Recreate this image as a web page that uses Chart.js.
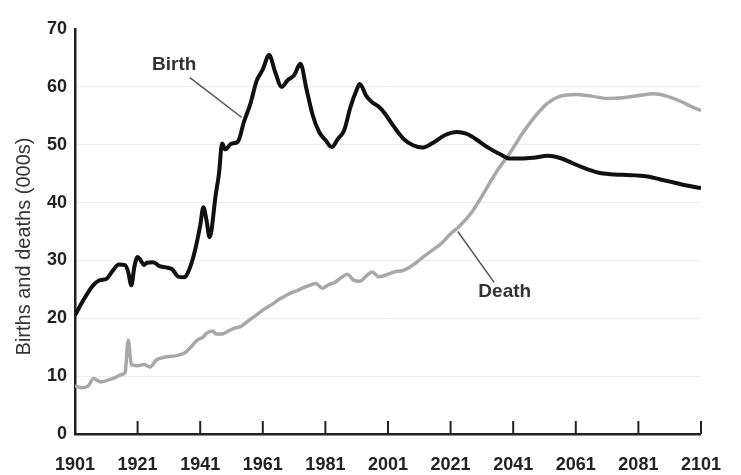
<!DOCTYPE html>
<html><head><meta charset="utf-8">
<script src="https://cdn.jsdelivr.net/npm/chart.js@4"></script>
<style>html,body{margin:0;padding:0;background:#fff}#wrap{width:741px;height:475px;position:relative}</style>
</head><body><div id="wrap"><canvas id="c"></canvas></div>
<script>
const birthYears  = [1901,1903,1905,1907,1909,1911,1913,1915,1917,1918,1919,1920,1921,1922,1923,1924,1926,1928,1930,1932,1934,1936,1937,1939,1941,1942,1943,1944,1946,1947,1948,1949,1951,1953,1955,1957,1959,1961,1963,1965,1967,1969,1971,1973,1975,1977,1979,1981,1983,1985,1987,1989,1991,1992,1994,1996,1998,2000,2002,2004,2006,2009,2012,2015,2019,2023,2026,2029,2033,2037,2040,2044,2048,2052,2056,2060,2064,2068,2072,2076,2080,2084,2088,2092,2096,2101];
const birthValues = [20.5,22.5,24.3,25.8,26.6,26.8,28.2,29.3,29.2,28.0,25.7,29.0,30.6,30.0,29.2,29.6,29.7,29.0,28.8,28.5,27.2,27.1,27.8,31.0,36.0,39.2,37.0,34.0,41.5,45.0,50.2,49.2,50.2,50.5,54.0,57.0,61.0,63.0,65.5,62.5,60.0,61.2,62.0,64.0,59.5,55.0,52.2,50.8,49.6,51.0,52.5,56.5,59.5,60.5,58.5,57.3,56.6,55.4,53.8,52.3,51.0,49.9,49.5,50.2,51.6,52.2,51.9,51.0,49.5,48.3,47.6,47.6,47.8,48.1,47.7,46.8,45.9,45.2,44.9,44.8,44.7,44.5,44.0,43.5,43.0,42.5];
const deathYears  = [1901,1903,1905,1907,1909,1912,1914,1916,1917,1918,1919,1921,1923,1925,1927,1929,1931,1933,1936,1938,1940,1942,1943,1945,1946,1948,1950,1952,1954,1956,1958,1960,1962,1964,1966,1968,1970,1972,1974,1976,1978,1980,1982,1984,1986,1988,1990,1992,1994,1996,1998,2000,2003,2006,2009,2012,2015,2018,2021,2024,2028,2032,2036,2040,2044,2048,2052,2056,2061,2066,2071,2076,2081,2086,2090,2094,2098,2101];
const deathValues = [8.3,8.0,8.2,9.6,9.0,9.4,9.8,10.3,10.6,16.2,12.0,11.8,12.0,11.6,12.8,13.2,13.4,13.5,14.0,15.0,16.2,16.8,17.4,17.8,17.3,17.3,17.8,18.3,18.6,19.4,20.2,21.0,21.8,22.4,23.2,23.8,24.4,24.8,25.3,25.7,26.0,25.2,25.8,26.2,27.0,27.6,26.6,26.4,27.3,28.0,27.2,27.4,28.0,28.3,29.2,30.5,31.7,32.9,34.6,36.0,38.5,42.0,45.6,48.6,52.0,54.9,57.2,58.4,58.7,58.4,58.0,58.1,58.5,58.8,58.4,57.6,56.6,55.9];
const xTicks = [1901,1921,1941,1961,1981,2001,2021,2041,2061,2081,2101];
const yTicks = [0,10,20,30,40,50,60,70];
const seriesNames = ['Birth','Death'];
const yTitle = 'Births and deaths (000s)';
// callout labels: [text, labelX, labelY, lineFromX, lineFromY, lineToX, lineToY] in data units
const callouts = [
  ['Birth', 1932.7, 63.8, 1937.7, 61.6, 1954.3, 54.7],
  ['Death', 2038.3, 24.5, 2034.9, 26.2, 2023.3, 35.0]
];

const FONT = "'Liberation Sans', Arial, sans-serif";
const toPts = (xs, ys) => xs.map((v, i) => ({x: v, y: ys[i]}));

const decor = {
  id: 'decor',
  afterDraw(chart) {
    const {ctx, chartArea, scales: {x, y}} = chart;
    ctx.save();
    ctx.strokeStyle = '#222';
    ctx.lineWidth = 2;
    xTicks.forEach(v => {
      if (v === xTicks[0]) return;
      const px = x.getPixelForValue(v);
      ctx.beginPath();
      ctx.moveTo(px, chartArea.bottom);
      ctx.lineTo(px, chartArea.bottom - 13);
      ctx.stroke();
    });
    callouts.forEach(c => {
      ctx.strokeStyle = '#555';
      ctx.lineWidth = 1.5;
      ctx.beginPath();
      ctx.moveTo(x.getPixelForValue(c[3]), y.getPixelForValue(c[4]));
      ctx.lineTo(x.getPixelForValue(c[5]), y.getPixelForValue(c[6]));
      ctx.stroke();
      ctx.fillStyle = '#333';
      ctx.font = 'bold 19px ' + FONT;
      ctx.textAlign = 'center';
      ctx.textBaseline = 'middle';
      ctx.fillText(c[0], x.getPixelForValue(c[1]), y.getPixelForValue(c[2]));
    });
    // y-axis title
    ctx.translate(24, (chartArea.top + chartArea.bottom) / 2 + 15);
    ctx.rotate(-Math.PI / 2);
    ctx.fillStyle = '#333';
    ctx.font = '20px ' + FONT;
    ctx.textAlign = 'center';
    ctx.textBaseline = 'middle';
    ctx.fillText(yTitle, 0, 0);
    ctx.restore();
  }
};

new Chart(document.getElementById('c'), {
  type: 'line',
  data: {
    datasets: [
      {label: seriesNames[0], data: toPts(birthYears, birthValues), borderColor: '#111', borderWidth: 4, pointRadius: 0, cubicInterpolationMode: 'monotone', fill: false},
      {label: seriesNames[1], data: toPts(deathYears, deathValues), borderColor: '#a8a8a8', borderWidth: 3.5, pointRadius: 0, cubicInterpolationMode: 'monotone', fill: false}
    ]
  },
  options: {
    responsive: true,
    maintainAspectRatio: false,
    animation: false,
    layout: {padding: {top: 29, right: 28, bottom: 0, left: 0}},
    plugins: {legend: {display: false}, tooltip: {enabled: false}, title: {display: false}},
    scales: {
      x: {
        type: 'linear', min: xTicks[0], max: xTicks[xTicks.length - 1],
        afterBuildTicks: s => { s.ticks = xTicks.map(v => ({value: v})); },
        afterFit: s => { s.height = 41; },
        grid: {drawOnChartArea: false, drawTicks: false},
        border: {display: true, color: '#222', width: 2.5},
        ticks: {padding: 20, color: '#222', font: {family: FONT, size: 18, weight: 'bold'}, callback: v => String(v), maxRotation: 0, autoSkip: false}
      },
      y: {
        min: yTicks[0], max: yTicks[yTicks.length - 1],
        afterBuildTicks: s => { s.ticks = yTicks.map(v => ({value: v})); },
        afterFit: s => { s.width = 75; },
        grid: {drawTicks: false, color: c => (c.tick && (c.tick.value === 0 || c.tick.value === 70)) ? 'rgba(0,0,0,0)' : 'rgba(0,0,0,0.07)', lineWidth: 1},
        border: {display: true, color: '#222', width: 2.5},
        ticks: {padding: 8, color: '#222', font: {family: FONT, size: 18, weight: 'bold'}, callback: v => String(v)},
        title: {display: false, text: yTitle}
      }
    }
  },
  plugins: [decor]
});
</script>
</body></html>
